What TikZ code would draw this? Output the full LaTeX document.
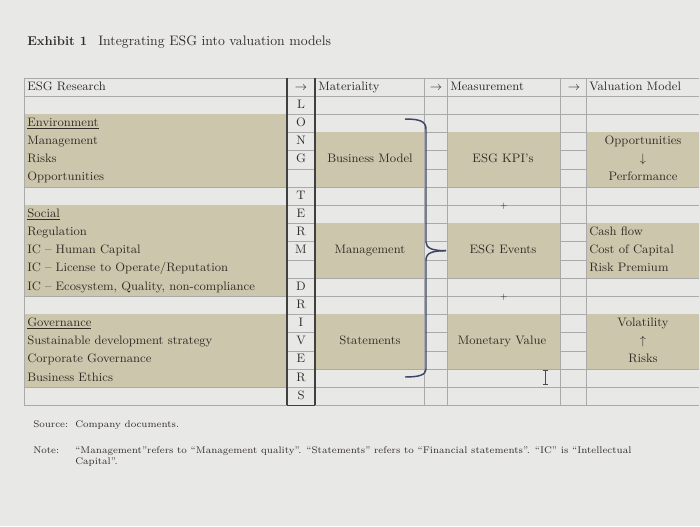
\documentclass[tikz,border=0pt]{standalone}
\usepackage{amsmath}
\usepackage{tikz}
\usepackage{color}

\definecolor{pagegray}{RGB}{232,232,231}
\definecolor{shadetan}{RGB}{204,198,173}
\definecolor{gridgray}{RGB}{170,170,170}
\definecolor{inkbrown}{RGB}{50,44,38}
\definecolor{bracketblue}{RGB}{60,70,100}

\tikzset{
  celltext/.style={inner sep=0pt, text=inkbrown, font=\fontsize{9.2}{11}\selectfont, text height=6.4pt, text depth=1.8pt},
  lefttext/.style={celltext, anchor=west},
  midtext/.style={celltext, anchor=center},
  notetext/.style={inner sep=0pt, text=inkbrown, font=\fontsize{7.25}{8.5}\selectfont, anchor=west, text height=5pt, text depth=1.4pt},
  gridline/.style={draw=gridgray, line width=0.45pt},
  darkline/.style={draw=black!75, line width=0.8pt},
  tanfill/.style={fill=shadetan, draw=none},
}

\begin{document}
\begin{tikzpicture}[x=0.75pt,y=0.75pt,yscale=-1,xscale=1]
    %page, set diagram to 700 x 526
    \fill [pagegray] (0,0) rectangle (700,526) ;
    \useasboundingbox (0,0) rectangle (700,526) ;

    %Title
    \node [lefttext, font=\bfseries\fontsize{9.6}{11}\selectfont] (exhibit) at (27,42) {Exhibit 1};
    \node [lefttext, font=\fontsize{10.3}{12}\selectfont] (title) at (98,42) {Integrating ESG into valuation models};

    %Horizontal grid lines
    \draw [gridline] (24,78) -- (699,78) ;
    \draw [gridline] (24,96) -- (699,96) ;
    \draw [gridline] (24,114.2) -- (699,114.2) ;
    \draw [gridline] (24,132.4) -- (699,132.4) ;
    \draw [gridline] (24,150.6) -- (699,150.6) ;
    \draw [gridline] (24,168.8) -- (699,168.8) ;
    \draw [gridline] (24,187) -- (699,187) ;
    \draw [gridline] (24,205.2) -- (699,205.2) ;
    \draw [gridline] (24,223.4) -- (699,223.4) ;
    \draw [gridline] (24,241.6) -- (699,241.6) ;
    \draw [gridline] (24,259.8) -- (699,259.8) ;
    \draw [gridline] (24,278) -- (699,278) ;
    \draw [gridline] (24,296.2) -- (699,296.2) ;
    \draw [gridline] (24,314.4) -- (699,314.4) ;
    \draw [gridline] (24,332.6) -- (699,332.6) ;
    \draw [gridline] (24,350.8) -- (699,350.8) ;
    \draw [gridline] (24,369) -- (699,369) ;
    \draw [gridline] (24,387.2) -- (699,387.2) ;
    \draw [gridline] (24,405.4) -- (699,405.4) ;

    %Shaded cells, ESG research column
    \fill [tanfill] (24.3,114.2) rectangle (287,187) ;
    \fill [tanfill] (24.3,205.2) rectangle (287,296.2) ;
    \fill [tanfill] (24.3,314.4) rectangle (287,387.2) ;
    %Shaded cells, materiality
    \fill [tanfill] (315,132.4) rectangle (424,187) ;
    \fill [tanfill] (315,223.4) rectangle (424,278) ;
    \fill [tanfill] (315,314.4) rectangle (424,369) ;
    %Shaded cells, measurement
    \fill [tanfill] (447,132.4) rectangle (560,187) ;
    \fill [tanfill] (447,223.4) rectangle (560,278) ;
    \fill [tanfill] (447,314.4) rectangle (560,369) ;
    %Shaded cells, valuation model
    \fill [tanfill] (586,132.4) rectangle (699,187) ;
    \fill [tanfill] (586,223.4) rectangle (699,278) ;
    \fill [tanfill] (586,314.4) rectangle (699,369) ;

    %Vertical grid lines
    \draw [gridline] (24,78) -- (24,405.4) ;
    \draw [gridline] (424,78) -- (424,405.4) ;
    \draw [gridline] (447,78) -- (447,405.4) ;
    \draw [gridline] (560,78) -- (560,405.4) ;
    \draw [gridline] (586,78) -- (586,405.4) ;
    %Letter column border
    \draw [darkline] (287,78) -- (287,405.4) ;
    \draw [darkline] (315,78) -- (315,405.4) ;
    \draw [darkline] (287,405.4) -- (315,405.4) ;

    %Header row
    \node [lefttext] (hresearch) at (27,87) {ESG Research};
    \node [midtext] (harrowa) at (301,87) {$\rightarrow$};
    \node [lefttext] (hmateriality) at (318,87) {Materiality};
    \node [midtext] (harrowb) at (436,87) {$\rightarrow$};
    \node [lefttext] (hmeasurement) at (450,87) {Measurement};
    \node [midtext] (harrowc) at (574,87) {$\rightarrow$};
    \node [lefttext] (hvaluation) at (589,87) {Valuation Model};

    %Letters: long term drivers
    \node [midtext] (lta) at (301,105.1) {L};
    \node [midtext] (ltb) at (301,123.3) {O};
    \node [midtext] (ltc) at (301,141.5) {N};
    \node [midtext] (ltd) at (301,159.7) {G};
    \node [midtext] (lte) at (301,196.1) {T};
    \node [midtext] (ltf) at (301,214.3) {E};
    \node [midtext] (ltg) at (301,232.5) {R};
    \node [midtext] (lth) at (301,250.7) {M};
    \node [midtext] (lti) at (301,287.1) {D};
    \node [midtext] (ltj) at (301,305.3) {R};
    \node [midtext] (ltk) at (301,323.5) {I};
    \node [midtext] (ltl) at (301,341.7) {V};
    \node [midtext] (ltm) at (301,359.9) {E};
    \node [midtext] (ltn) at (301,378.1) {R};
    \node [midtext] (lto) at (301,396.3) {S};

    %ESG research column
    \node [lefttext] (environment) at (27,123.3) {\underline{Environment}};
    \node [lefttext] (envmgmt) at (27,141.5) {Management};
    \node [lefttext] (envrisks) at (27,159.7) {Risks};
    \node [lefttext] (envopp) at (27,177.9) {Opportunities};
    \node [lefttext] (social) at (27,214.3) {\underline{Social}};
    \node [lefttext] (regulation) at (27,232.5) {Regulation};
    \node [lefttext] (human) at (27,250.7) {IC -- Human Capital};
    \node [lefttext] (license) at (27,268.9) {IC -- License to Operate/Reputation};
    \node [lefttext] (ecosystem) at (27,287.1) {IC -- Ecosystem, Quality, non-compliance};
    \node [lefttext] (governance) at (27,323.5) {\underline{Governance}};
    \node [lefttext] (strategy) at (27,341.7) {Sustainable development strategy};
    \node [lefttext] (corporate) at (27,359.9) {Corporate Governance};
    \node [lefttext] (ethics) at (27,378.1) {Business Ethics};

    %Materiality column
    \node [midtext] (business) at (370,159.7) {Business Model};
    \node [midtext] (management) at (370,250.7) {Management};
    \node [midtext] (statements) at (370,341.7) {Statements};

    %Bracket
    \draw [color=bracketblue, line width=1.1pt] (405,119) .. controls (419,119) and (426,121) .. (426,129) -- (426,242) .. controls (426,248) and (432,250.7) .. (446,250.7) ;
    \draw [color=bracketblue, line width=1.1pt] (446,250.7) .. controls (432,250.7) and (426,253) .. (426,260) -- (426,369) .. controls (426,375) and (419,377) .. (405,377) ;

    %Measurement column
    \node [midtext] (kpis) at (503,159.7) {ESG KPI's};
    \node [midtext, font=\fontsize{6.5}{8}\selectfont] (plusa) at (504,205.2) {+};
    \node [midtext] (events) at (503,250.7) {ESG Events};
    \node [midtext, font=\fontsize{6.5}{8}\selectfont] (plusb) at (504,296.2) {+};
    \node [midtext] (monetary) at (502,341.7) {Monetary Value};

    %Valuation model column
    \node [midtext] (opportunities) at (643,141.5) {Opportunities};
    \node [midtext] (arrowdown) at (643,159.7) {$\downarrow$};
    \node [midtext] (performance) at (643,177.9) {Performance};
    \node [lefttext] (cashflow) at (589,232.5) {Cash flow};
    \node [lefttext] (capital) at (589,250.7) {Cost of Capital};
    \node [lefttext] (premium) at (589,268.9) {Risk Premium};
    \node [midtext] (volatility) at (643,323.5) {Volatility};
    \node [midtext] (arrowup) at (643,341.7) {$\uparrow$};
    \node [midtext] (risks) at (643,359.9) {Risks};

    %Cursor
    \draw [black!70, line width=0.6pt] (545,370) -- (545,384) ;
    \draw [black!70, line width=0.6pt] (542.5,370) -- (547.5,370) ;
    \draw [black!70, line width=0.6pt] (542.5,384) -- (547.5,384) ;

    %Source and note
    \node [notetext] (sourcelabel) at (33,425) {Source:};
    \node [notetext] (sourcetext) at (75,425) {Company documents.};
    \node [notetext] (notelabel) at (33,451) {Note:};
    \node [notetext] (notetexta) at (75,451) {``Management''refers to ``Management quality''. ``Statements'' refers to ``Financial statements''. ``IC'' is ``Intellectual};
    \node [notetext] (notetextb) at (75,462.5) {Capital''.};
\end{tikzpicture}
\end{document}
